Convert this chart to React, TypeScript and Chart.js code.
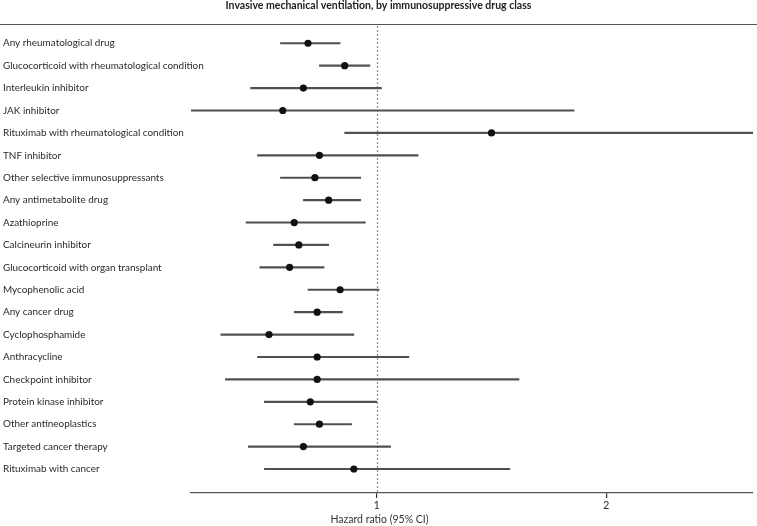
import React, { useEffect, useRef } from "react";
import { Chart, registerables } from "chart.js";

Chart.register(...registerables);

const chartTitle = "Invasive mechanical ventilation, by immunosuppressive drug class";
const axisTitle = "Hazard ratio (95% CI)";

const drugClasses = [
  "Any rheumatological drug",
  "Glucocorticoid with rheumatological condition",
  "Interleukin inhibitor",
  "JAK inhibitor",
  "Rituximab with rheumatological condition",
  "TNF inhibitor",
  "Other selective immunosuppressants",
  "Any antimetabolite drug",
  "Azathioprine",
  "Calcineurin inhibitor",
  "Glucocorticoid with organ transplant",
  "Mycophenolic acid",
  "Any cancer drug",
  "Cyclophosphamide",
  "Anthracycline",
  "Checkpoint inhibitor",
  "Protein kinase inhibitor",
  "Other antineoplastics",
  "Targeted cancer therapy",
  "Rituximab with cancer",
];

const hazardRatios = [
  0.70, 0.86, 0.68, 0.59, 1.50, 0.75, 0.73, 0.79, 0.64, 0.66,
  0.62, 0.84, 0.74, 0.53, 0.74, 0.74, 0.71, 0.75, 0.68, 0.90,
];

const lowerCI = [
  0.58, 0.75, 0.45, 0.19, 0.86, 0.48, 0.58, 0.68, 0.43, 0.55,
  0.49, 0.70, 0.64, 0.32, 0.48, 0.34, 0.51, 0.64, 0.44, 0.51,
];

const upperCI = [
  0.84, 0.97, 1.02, 1.86, 3.00, 1.18, 0.93, 0.93, 0.95, 0.79,
  0.77, 1.01, 0.85, 0.90, 1.14, 1.62, 1.00, 0.89, 1.06, 1.58,
];

const xTicks = [1, 2];
const referenceValue = 1;

const FONT = "Lato, 'Open Sans', sans-serif";

export default function App() {
  const canvasRef = useRef<HTMLCanvasElement | null>(null);

  useEffect(() => {
    const canvas = canvasRef.current;
    if (!canvas) return;

    const decorPlugin = {
      id: "forestDecor",
      beforeDatasetsDraw(chart: any) {
        const { ctx, chartArea, scales } = chart;
        const xs = scales.x;
        ctx.save();
        // top rule
        ctx.strokeStyle = "#555";
        ctx.lineWidth = 1.2;
        ctx.beginPath();
        ctx.moveTo(0, chartArea.top + 0.5);
        ctx.lineTo(chart.width, chartArea.top + 0.5);
        ctx.stroke();
        // reference line
        const xr = Math.round(xs.getPixelForValue(referenceValue)) + 0.5;
        ctx.strokeStyle = "#7d97a2";
        ctx.lineWidth = 1.3;
        ctx.setLineDash([2, 2]);
        ctx.beginPath();
        ctx.moveTo(xr, chartArea.top + 2);
        ctx.lineTo(xr, chartArea.bottom);
        ctx.stroke();
        ctx.restore();
      },
      afterDraw(chart: any) {
        const { ctx, scales } = chart;
        ctx.save();
        ctx.fillStyle = "#222";
        ctx.textAlign = "center";
        ctx.textBaseline = "middle";
        ctx.font = `bold 10.5px ${FONT}`;
        ctx.fillText(chartTitle, chart.width / 2, 6);
        ctx.font = `10.5px ${FONT}`;
        ctx.fillStyle = "#333";
        ctx.fillText(axisTitle, chart.width / 2 + 1, 520);

        // row labels, fitted so the longest label is ~201px wide
        ctx.font = `11px ${FONT}`;
        let widest = 0;
        drugClasses.forEach((l) => {
          widest = Math.max(widest, ctx.measureText(l).width);
        });
        const size = Math.min(12, (11 * 201) / widest);
        ctx.font = `${size.toFixed(2)}px ${FONT}`;
        ctx.fillStyle = "#2a2a2a";
        ctx.textAlign = "left";
        ctx.textBaseline = "middle";
        drugClasses.forEach((l, i) => {
          const y = scales.y.getPixelForValue(i + 1);
          ctx.fillText(l, 3, y);
        });
        ctx.restore();
      },
    };

    const chart = new Chart(canvas, {
      type: "scatter",
      data: {
        datasets: [
          {
            type: "bar",
            label: "95% CI",
            indexAxis: "y",
            data: drugClasses.map((_, i) => ({ x: [lowerCI[i], upperCI[i]], y: i + 1 })) as any,
            backgroundColor: "#505050",
            borderWidth: 0,
            barThickness: 1.5,
            order: 2,
          } as any,
          {
            type: "scatter",
            label: "Hazard ratio",
            data: drugClasses.map((_, i) => ({ x: hazardRatios[i], y: i + 1 })),
            backgroundColor: "#111",
            borderWidth: 0,
            pointRadius: 3.6,
            order: 1,
          },
        ],
      },
      options: {
        animation: false,
        responsive: false,
        devicePixelRatio: 1,
        layout: { padding: { top: 24, left: 3, right: 0, bottom: 0 } },
        plugins: {
          legend: { display: false },
          tooltip: { enabled: false },
          title: { display: false },
        },
        scales: {
          x: {
            type: "linear",
            min: 0.19,
            max: 2.64,
            offset: false,
            afterBuildTicks: (axis: any) => {
              axis.ticks = xTicks.map((v) => ({ value: v }));
            },
            afterFit: (scale: any) => {
              scale.height = 33;
            },
            grid: {
              drawOnChartArea: false,
              drawTicks: true,
              tickLength: 5,
              color: "#333",
              lineWidth: 1.2,
            },
            border: { display: true, color: "#555", width: 1.2 },
            ticks: {
              font: { family: FONT, size: 11 },
              color: "#333",
              padding: 1,
              maxRotation: 0,
              autoSkip: false,
            },
          },
          y: {
            type: "linear",
            reverse: true,
            offset: false,
            min: 0.14,
            max: 21.07,
            afterBuildTicks: (axis: any) => {
              axis.ticks = drugClasses.map((_, i) => ({ value: i + 1 }));
            },
            afterFit: (scale: any) => {
              scale.width = 188;
            },
            grid: { display: false, offset: false },
            border: { display: false },
            ticks: { display: false },
          },
        },
      } as any,
      plugins: [decorPlugin],
    });

    return () => chart.destroy();
  }, []);

  return (
    <div style={{ position: "fixed", left: 0, top: 0, width: 757, height: 526, background: "#fff" }}>
      <canvas ref={canvasRef} width={757} height={526} style={{ display: "block" }} />
    </div>
  );
}
